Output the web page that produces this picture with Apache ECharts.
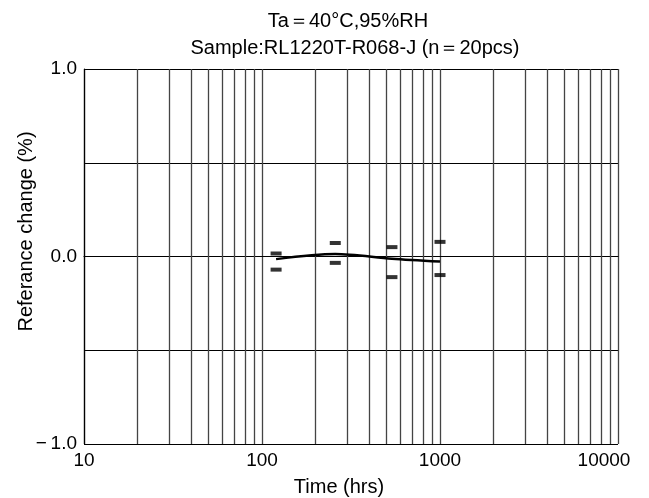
<!DOCTYPE html>
<html>
<head>
<meta charset="utf-8">
<script src="https://cdn.jsdelivr.net/npm/echarts@6/dist/echarts.min.js"></script>
<style>
html,body{margin:0;padding:0;background:#fff;}
#chart{width:649px;height:498px;}
</style>
</head>
<body>
<div id="chart"></div>
<script>
// ---- data ----
const times = [120, 258, 537, 1000];
const meanChange = [-0.014, 0.013, -0.012, -0.027];
const maxChange = [0.016, 0.072, 0.05, 0.078];
const minChange = [-0.07, -0.034, -0.11, -0.099];
const xTickValues = [10, 100, 1000, 10000];
const yTickValues = [-1, 0, 1];
const yTickText = ['\u2212\u20091.0', '0.0', '1.0'];
const minorMultipliers = [2, 3, 4, 5, 6, 7, 8, 9];
const decades = [10, 100, 1000];
const titleLine1 = 'Ta\uFF1D40°C,95%RH';
const titleLine2 = 'Sample:RL1220T-R068-J (n\uFF1D20pcs)';

const FONT = '"Liberation Sans", Arial, Helvetica, sans-serif';

const minorLines = [];
decades.forEach(d => minorMultipliers.forEach(m => minorLines.push({ xAxis: d * m })));

const chart = echarts.init(document.getElementById('chart'), null, { renderer: 'canvas' });
chart.setOption({
  animation: false,
  backgroundColor: '#fff',
  textStyle: { fontFamily: FONT },
  title: [
    { text: titleLine1, left: 343, top: 6, textAlign: 'center',
      textStyle: { fontSize: 20, fontWeight: 'normal', color: '#000', fontFamily: FONT } },
    { text: titleLine2, left: 350, top: 33, textAlign: 'center',
      textStyle: { fontSize: 20, fontWeight: 'normal', color: '#000', fontFamily: FONT } }
  ],
  grid: { left: 84, right: 31, top: 69, bottom: 54, show: false, containLabel: false, outerBoundsMode: 'none' },
  xAxis: {
    type: 'log', logBase: 10, min: 10, max: 10000,
    name: 'Time (hrs)', nameLocation: 'middle', nameGap: 33, nameMoveOverlap: false,
    nameTextStyle: { fontSize: 20, color: '#000', fontFamily: FONT, padding: [0, 24, 0, 0] },
    axisLine: { show: true, lineStyle: { color: '#000', width: 1.2 } },
    axisTick: { show: false },
    axisLabel: {
      fontSize: 19, color: '#000', margin: 7, fontFamily: FONT,
      formatter: v => {
        const r = Math.round(v);
        if (xTickValues.indexOf(r) < 0) return '';
        return r === 10000 ? '{r|' + r + '}' : String(r);
      },
      rich: { r: { fontSize: 19, color: '#000', fontFamily: FONT, padding: [0, 28, 0, 0] } }
    },
    splitLine: { show: true, lineStyle: { color: '#444', width: 1.3 } }
  },
  yAxis: {
    type: 'value', min: -1, max: 1, interval: 0.5,
    name: 'Referance change (%)', nameLocation: 'middle', nameGap: 48, nameMoveOverlap: false,
    nameTextStyle: { fontSize: 20, color: '#000', fontFamily: FONT, padding: [0, 0, 0, 50] },
    axisLine: { show: true, lineStyle: { color: '#000', width: 1.2 } },
    axisTick: { show: false },
    axisLabel: {
      fontSize: 19, color: '#000', margin: 7, fontFamily: FONT,
      formatter: v => { const i = yTickValues.indexOf(v); return i >= 0 ? yTickText[i] : ''; }
    },
    splitLine: { show: true, lineStyle: { color: '#000', width: 1 } }
  },
  series: [
    {
      type: 'line', name: 'grid', data: [], silent: true,
      markLine: {
        silent: true, symbol: ['none', 'none'], label: { show: false },
        lineStyle: { color: '#444', width: 1.3, type: 'solid' },
        data: minorLines
      }
    },
    {
      type: 'line', name: 'mean', data: times.map((t, i) => [t, meanChange[i]]),
      showSymbol: false, smooth: 0.3, z: 5,
      lineStyle: { color: '#000', width: 2.5 }
    },
    {
      type: 'scatter', name: 'max', data: times.map((t, i) => [t, maxChange[i]]),
      symbol: 'rect', symbolSize: [11, 4], z: 6,
      itemStyle: { color: '#000' }
    },
    {
      type: 'scatter', name: 'min', data: times.map((t, i) => [t, minChange[i]]),
      symbol: 'rect', symbolSize: [11, 4], z: 6,
      itemStyle: { color: '#000' }
    }
  ]
});
</script>
</body>
</html>
